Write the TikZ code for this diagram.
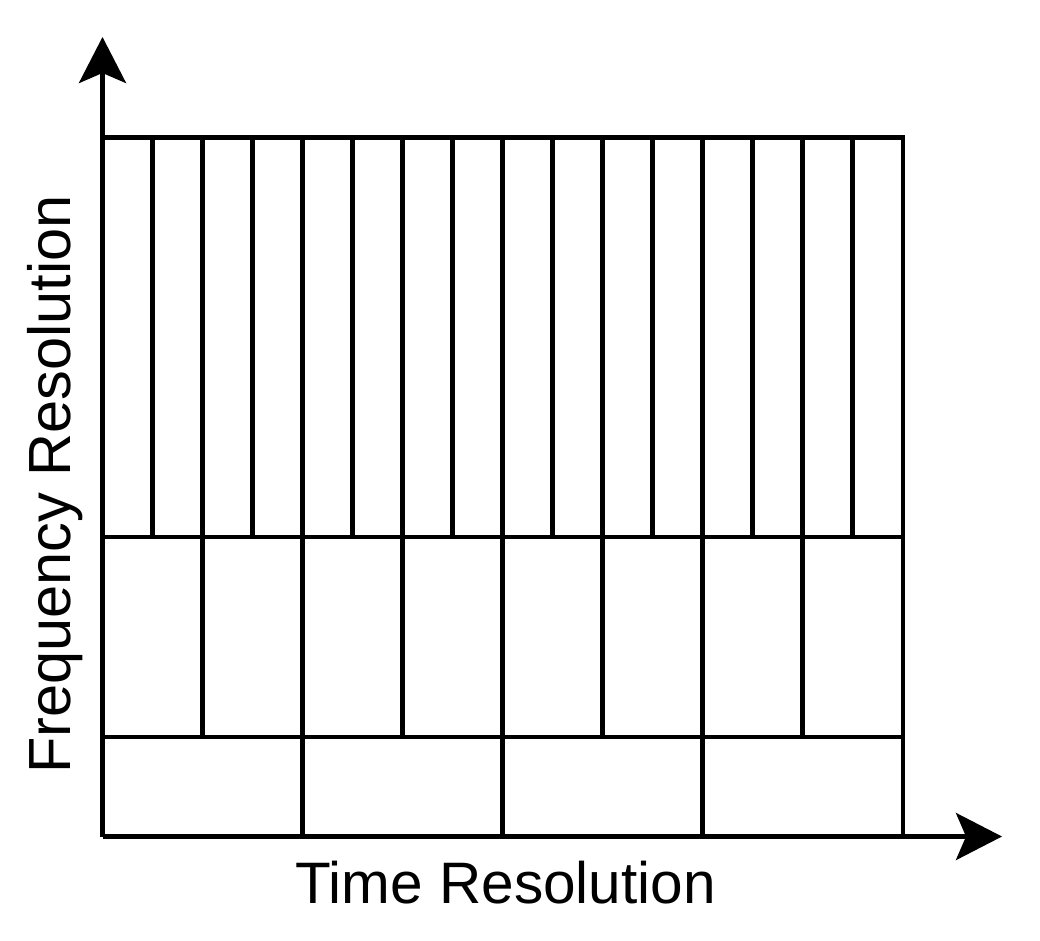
\documentclass[tikz,border=0pt]{standalone}
\usepackage{fontspec}
\setmainfont{Liberation Sans}
\usetikzlibrary{arrows.meta}
\begin{document}
\begin{tikzpicture}[x=1pt,y=-1pt,
  gridline/.style={line width=4.5pt, line cap=rect},
  axis/.style={line width=4.5pt, -{Stealth[length=46pt,width=47pt,inset=10pt]}},
  label/.style={inner sep=0pt, anchor=base}]
\useasboundingbox (0,0) rectangle (1040,940);
\coordinate (O) at (102.5,836.5);
\coordinate (ytip) at (102.5,37);
\coordinate (xtip) at (1002,836.5);
% grid
\draw[gridline] (102.5,137.5) -- (903,137.5);
\draw[gridline] (102.5,537) -- (903,537);
\draw[gridline] (102.5,737) -- (903,737);
\draw[gridline] (903,137.5) -- (903,836.5);
\foreach \i in {1,...,15} \draw[gridline] (102.5+\i*50,137.5) -- (102.5+\i*50,537);
\foreach \i in {1,...,7} \draw[gridline] (102.5+\i*100,537) -- (102.5+\i*100,737);
\foreach \i in {1,...,3} \draw[gridline] (102.5+\i*200,737) -- (102.5+\i*200,836.5);
% axes
\draw[axis] (O) -- (ytip);
\draw[axis] (O) -- (xtip);
% labels
\node[label, font=\fontsize{58.5}{70}\selectfont] (tlabel) at (505.5,903) {Time Resolution};
\node[label, rotate=90, font=\fontsize{59.5}{71}\selectfont] (flabel) at (70,484.5) {Frequency Resolution};
\end{tikzpicture}
\end{document}
